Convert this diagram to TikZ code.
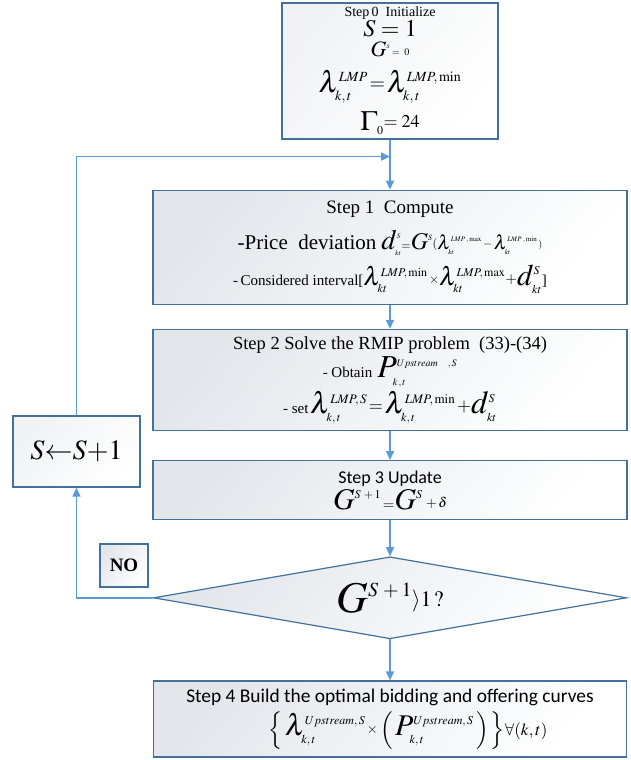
\documentclass[tikz,border=0pt]{standalone}
\usepackage{mathptmx}
\usepackage{fontspec}
\setmainfont{Liberation Serif}
\setsansfont{Carlito}
\usetikzlibrary{arrows.meta,positioning,shapes.geometric}
\definecolor{edge}{HTML}{41719C}
\definecolor{flowblue}{HTML}{5B9BD5}
\definecolor{shadegray}{HTML}{E3E6EB}
\definecolor{shadelight}{HTML}{F1F2F4}
\newcommand\fz[2]{{\fontsize{#1}{#1}\selectfont #2}}
\newcommand\ms[2]{\mbox{\fontsize{#1}{#1}\selectfont$#2$}}

\begin{document}
\begin{tikzpicture}[x=1pt,y=-1pt,every node/.style={align=center,font=\fontsize{10}{10}\selectfont},
  stepbox/.style={draw=edge,line width=1.2pt,top color=#1,bottom color=white,shading angle=50,minimum width=474pt,inner sep=0pt},
  stepbox/.default=shadegray,
  flow/.style={draw=flowblue,line width=1.5pt,-{Triangle[length=9pt,width=8pt]}}]
\useasboundingbox (0,0) rectangle (630,760);
\node[stepbox=shadelight,minimum width=216pt,minimum height=136pt] (init) at (390,71) {\fz{14}{Step\,0\ \ Initialize}\\[0pt]
\ms{24}{S=1}\\[3pt]
\ms{22}{G^{\ms{8}{s}}}\,\raisebox{1pt}{\ms{10}{=\ 0}}\\[13pt]
\ms{30}{\lambda^{\ms{14}{LMP}}_{\ms{14}{k,t}}}\,\raisebox{3pt}{\ms{20}{=}}\,\ms{30}{\lambda^{\ms{14}{LMP,\mathrm{min}}}_{\ms{14}{k,t}}}\\[8pt]
\ms{28}{\Gamma_{\ms{12}{0}}}\raisebox{3pt}{\ms{18}{=24}}};
\node[stepbox,minimum height=114pt,below=50pt of init] (compute) {\fz{19}{Step 1\ \ Compute}\\[11pt]
\fz{21}{-Price\ \ deviation}\ \ \ms{28}{d^{\ms{7}{S}}_{\ms{7}{kt}}}\ms{12}{=}\ms{24}{G^{\ms{8}{S}}}\raisebox{2pt}{\ms{12}{(}}\ms{20}{\lambda^{\ms{7}{LMP\;,\mathrm{max}}}_{\ms{7}{kt}}}\raisebox{2pt}{\ms{12}{\,-\,}}\ms{20}{\lambda^{\ms{7}{LMP\;,\mathrm{min}}}_{\ms{7}{kt}}}\raisebox{2pt}{\ms{10}{\,)}}\\[8pt]
\fz{15}{-\,Considered interval[}\ms{26}{\lambda^{\ms{12}{LMP,\mathrm{min}}}_{\ms{12}{kt}}}\raisebox{2pt}{\ms{13}{\,\times}}\ms{26}{\lambda^{\ms{12}{LMP,\mathrm{max}}}_{\ms{12}{kt}}}\raisebox{2pt}{\ms{15}{+}}\ms{30}{d^{\ms{12}{S}}_{\ms{12}{kt}}}\fz{15}{]}};
\node[stepbox,minimum height=101pt,below=24pt of compute] (solve) {\fz{18.5}{Step 2 Solve the RMIP problem\ \ (33)-(34)}\\[3pt]
\fz{15}{- Obtain}\ \ \ms{32}{P^{\ms{10}{Upstream\quad ,S}}_{\ms{10}{k\,,t}}}\\[3pt]
\fz{15}{- set}\,\ms{30}{\lambda^{\ms{13}{LMP,S}}_{\ms{12}{k,t}}}\,\raisebox{2pt}{\ms{18}{=}}\,\ms{30}{\lambda^{\ms{13}{LMP,\mathrm{min}}}_{\ms{12}{k,t}}}\,\raisebox{2pt}{\ms{18}{+}}\ms{32}{d^{\ms{12}{S}}_{\ms{12}{kt}}}};
\node[stepbox,minimum height=59pt,below=29pt of solve] (update) {\fz{18}{\sffamily Step 3 Update}\\[2pt]
\ms{30}{G^{\ms{12}{S\,+1}}}\ms{15}{\,=}\ms{30}{G^{\ms{12}{S}}}\raisebox{2pt}{\ms{14}{\;+\,\delta}}};
\node[stepbox,diamond,aspect=5.77,minimum width=473pt,minimum height=82pt,below=36pt of update] (check) {\ms{44}{G^{\ms{20}{S\,+1}}}\raisebox{6pt}{\ms{22}{\rangle 1\,?}}};
\node[stepbox,minimum width=473pt,minimum height=76pt,below=41pt of check] (build) {\fz{19.4}{\sffamily Step 4 Build the optimal bidding and offering curves}\\[5pt]
\hspace*{36pt}\ms{21}{\left\{\,\ms{30}{\lambda^{\ms{12}{Upstream,S}}_{\ms{12}{k,t}}}\raisebox{2pt}{\ms{14}{\,\times}}\left(\,\ms{30}{P^{\ms{12}{Upstream,S}}_{\ms{12}{k,t}}}\,\right)\,\right\}}\ms{17}{\forall(k,t)}};
\node[stepbox=shadelight,minimum width=127pt,minimum height=71pt] (incr) at (76.5,451.5) {\ms{28}{S{\leftarrow}S{+}1}};
\node[stepbox,minimum width=48pt,minimum height=43pt] (no) at (124,565.5) {\fz{19}{\bfseries NO}};
\path (init.south) ++(0,17) coordinate (join);
\draw[flow] (init) -- (compute);
\draw[flow] (compute) -- (solve);
\draw[flow] (solve) -- (update);
\draw[flow] (update) -- (check);
\draw[flow] (check) -- (build);
\draw[flow] (check.west) -| (incr.south);
\draw[flow] (incr.north) |- (join);
\end{tikzpicture}
\end{document}
